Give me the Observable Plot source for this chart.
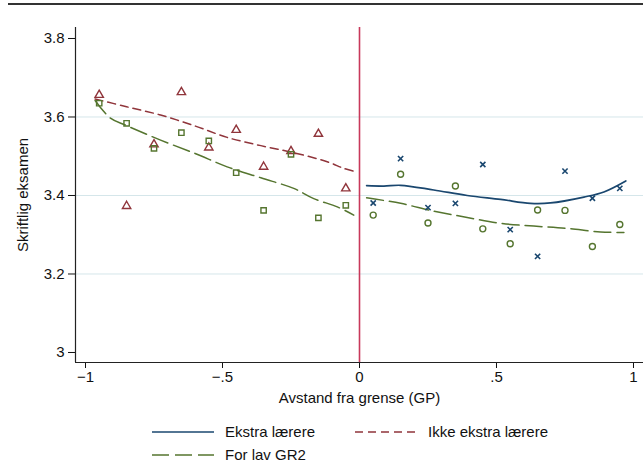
<!DOCTYPE html>
<html>
<head>
<meta charset="utf-8">
<script src="https://cdn.jsdelivr.net/npm/d3@7"></script>
<script src="https://cdn.jsdelivr.net/npm/@observablehq/plot@0.6"></script>
<style>
  html, body { margin: 0; padding: 0; background: #fff; }
  body { width: 643px; height: 470px; position: relative; overflow: hidden;
         font-family: "Liberation Sans", Arial, sans-serif; color: #111; }
  #toprule { position: absolute; top: 3px; left: 8px; right: 0; height: 2px; background: #333; }
  #chart { position: absolute; top: 0; left: 0; }
  #legend { position: absolute; top: 420px; left: 0; width: 643px; font-size: 15px; }
  .row { display: flex; height: 23px; align-items: center; padding-left: 152px; }
  .item { display: flex; align-items: center; width: 203px; }
  .item svg { width: 62px; height: 6px; margin-right: 11px; flex: none; }
</style>
</head>
<body>
<div id="toprule"></div>
<div id="chart"></div>
<div id="legend"></div>
<script>
// ---- data ----
const bins = [-0.95, -0.85, -0.75, -0.65, -0.55, -0.45, -0.35, -0.25, -0.15, -0.05,
              0.05, 0.15, 0.25, 0.35, 0.45, 0.55, 0.65, 0.75, 0.85, 0.95];
const leftBins = bins.slice(0, 10);
const rightBins = bins.slice(10);

// Ikke ekstra lærere (left of the cutoff), triangles
const ikkeValues = [3.656, 3.373, 3.530, 3.663, 3.522, 3.567, 3.473, 3.513, 3.557, 3.418];
// For lav GR2 (left), squares
const forLavLeftValues = [3.635, 3.584, 3.520, 3.560, 3.539, 3.458, 3.362, 3.505, 3.343, 3.375];
// Ekstra lærere (right), crosses
const ekstraValues = [3.381, 3.494, 3.369, 3.380, 3.479, 3.313, 3.245, 3.462, 3.393, 3.418];
// For lav GR2 (right), circles
const forLavRightValues = [3.350, 3.454, 3.330, 3.424, 3.315, 3.277, 3.363, 3.362, 3.270, 3.326];

// fitted lines
const ikkeLineX = [-0.965, -0.85, -0.726, -0.6, -0.483, -0.36, -0.24, -0.118, -0.057, -0.021];
const ikkeLineY = [3.646, 3.626, 3.605, 3.577, 3.548, 3.527, 3.509, 3.486, 3.469, 3.462];
const forLavLeftLineX = [-0.965, -0.909, -0.85, -0.726, -0.6, -0.483, -0.36, -0.24, -0.167, -0.081, -0.021];
const forLavLeftLineY = [3.642, 3.597, 3.578, 3.541, 3.507, 3.473, 3.445, 3.418, 3.392, 3.371, 3.350];
const ekstraLineX = [0.026, 0.089, 0.15, 0.271, 0.393, 0.515, 0.624, 0.697, 0.819, 0.892, 0.972];
const ekstraLineY = [3.425, 3.424, 3.426, 3.414, 3.400, 3.390, 3.380, 3.381, 3.396, 3.409, 3.437];
const forLavRightLineX = [0.026, 0.15, 0.271, 0.393, 0.515, 0.636, 0.758, 0.88, 0.965];
const forLavRightLineY = [3.394, 3.380, 3.360, 3.344, 3.329, 3.322, 3.316, 3.307, 3.306];

// axes
const xTicks = [-1, -0.5, 0, 0.5, 1];
const xTickLabels = ["\u22121", "\u2212.5", "0", ".5", "1"];
const yTicks = [3, 3.2, 3.4, 3.6, 3.8];
const yTickLabels = ["3", "3.2", "3.4", "3.6", "3.8"];
const yGrid = [3.2, 3.4, 3.6];
const xDomain = [-1.0365, 1.0365];
const yDomain = [2.9745, 3.828];
const cutoff = [0];

const seriesNames = ["Ekstra lærere", "Ikke ekstra lærere", "For lav GR2"];
const colors = { blue: "#1a476f", red: "#90353b", green: "#55752f", cut: "#c8385a" };

// tables
const pts = (xs, ys) => xs.map((x, i) => ({ x, y: ys[i] }));
const ikkePts = pts(leftBins, ikkeValues);
const forLavLeftPts = pts(leftBins, forLavLeftValues);
const ekstraPts = pts(rightBins, ekstraValues);
const forLavRightPts = pts(rightBins, forLavRightValues);

const chart = Plot.plot({
  width: 643,
  height: 420,
  marginLeft: 75,
  marginRight: 0,
  marginTop: 27,
  marginBottom: 58,
  style: { fontFamily: "'Liberation Sans', Arial, sans-serif", fontSize: "15px", color: "#111", background: "transparent" },
  x: { domain: xDomain, ticks: xTicks, tickFormat: (d) => xTickLabels[xTicks.indexOf(d)],
       label: "Avstand fra grense (GP)", labelAnchor: "center", labelOffset: 40, labelArrow: "none", tickSize: 6 },
  y: { domain: yDomain, ticks: yTicks, tickFormat: (d) => yTickLabels[yTicks.indexOf(d)],
       label: "Skriftlig eksamen", labelAnchor: "center", labelOffset: 58, labelArrow: "none", tickSize: 7, tickPadding: 4 },
  marks: [
    Plot.gridY(yGrid, { stroke: "#d5e6ea", strokeOpacity: 1, strokeWidth: 1 }),
    Plot.ruleX(cutoff, { stroke: colors.cut, strokeWidth: 1.6 }),
    Plot.ruleX([xDomain[0]], { stroke: "#222", strokeWidth: 1.2 }),
    Plot.ruleY([yDomain[0]], { stroke: "#222", strokeWidth: 1.2 }),
    Plot.line(pts(ikkeLineX, ikkeLineY), { x: "x", y: "y", stroke: colors.red, strokeWidth: 1.5, strokeDasharray: "8,5", curve: "catmull-rom" }),
    Plot.line(pts(forLavLeftLineX, forLavLeftLineY), { x: "x", y: "y", stroke: colors.green, strokeWidth: 1.5, strokeDasharray: "17,6", curve: "catmull-rom" }),
    Plot.line(pts(ekstraLineX, ekstraLineY), { x: "x", y: "y", stroke: colors.blue, strokeWidth: 1.7, curve: "catmull-rom" }),
    Plot.line(pts(forLavRightLineX, forLavRightLineY), { x: "x", y: "y", stroke: colors.green, strokeWidth: 1.5, strokeDasharray: "17,6", curve: "catmull-rom" }),
    Plot.dot(ikkePts, { x: "x", y: "y", symbol: "triangle", r: 3.1, stroke: colors.red, strokeWidth: 1.4, fill: "none" }),
    Plot.dot(forLavLeftPts, { x: "x", y: "y", symbol: "square", r: 3.0, stroke: colors.green, strokeWidth: 1.4, fill: "none" }),
    Plot.dot(ekstraPts, { x: "x", y: "y", symbol: "times", r: 2.5, stroke: colors.blue, strokeWidth: 1.6, fill: "none" }),
    Plot.dot(forLavRightPts, { x: "x", y: "y", symbol: "circle", r: 3.0, stroke: colors.green, strokeWidth: 1.4, fill: "none" })
  ]
});
document.getElementById("chart").appendChild(chart);

// legend
const swatch = (color, dash, w) =>
  `<svg viewBox="0 0 62 6"><line x1="0" y1="3" x2="62" y2="3" stroke="${color}" stroke-width="${w}" ${dash ? `stroke-dasharray="${dash}"` : ""}/></svg>`;
const legendItems = [
  { name: seriesNames[0], color: colors.blue, dash: null, w: 1.6 },
  { name: seriesNames[1], color: colors.red, dash: "8,5", w: 1.5 },
  { name: seriesNames[2], color: colors.green, dash: "17,6", w: 1.5 }
];
const rows = [[legendItems[0], legendItems[1]], [legendItems[2]]];
document.getElementById("legend").innerHTML = rows.map(r =>
  `<div class="row">${r.map(it => `<div class="item">${swatch(it.color, it.dash, it.w)}<span>${it.name}</span></div>`).join("")}</div>`
).join("");
</script>
</body>
</html>
